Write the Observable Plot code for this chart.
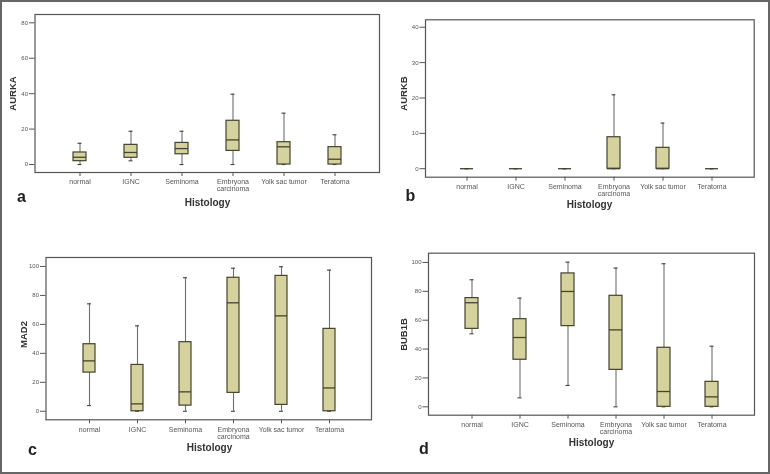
<!DOCTYPE html>
<html><head><meta charset="utf-8">
<script src="https://cdn.jsdelivr.net/npm/d3@7"></script>
<script src="https://cdn.jsdelivr.net/npm/@observablehq/plot@0.6"></script>
<style>
body{margin:0;background:#fff;font-family:"Liberation Sans",Arial,sans-serif}
#wrap{position:relative;width:770px;height:474px;overflow:hidden;background:#fff}
#border{position:absolute;left:0;top:0;width:770px;height:474px;box-sizing:border-box;border:2px solid #666;pointer-events:none}
.panel{position:absolute;will-change:transform}
</style></head>
<body><div id="wrap"><div id="border"></div></div>
<script>
const categories = ["normal", "IGNC", "Seminoma", "Embryona\ncarcinoma", "Yolk sac tumor", "Teratoma"];

// a: AURKA
const aurkaLow  = [0, 2.1, 0, 0, 0, 0];
const aurkaQ1   = [1.9, 3.8, 5.8, 7.7, 0, 0];
const aurkaMed  = [4.1, 6.8, 9.0, 13.9, 10.0, 3.0];
const aurkaQ3   = [6.8, 11.1, 12.2, 24.7, 12.6, 9.8];
const aurkaHigh = [12.0, 18.8, 18.8, 39.7, 29.0, 16.8];
const aurkaTicks = [0, 20, 40, 60, 80];

// b: AURKB
const aurkbLow  = [0, 0, 0, 0, 0, 0];
const aurkbQ1   = [0, 0, 0, 0, 0, 0];
const aurkbMed  = [0, 0, 0, 0, 0, 0];
const aurkbQ3   = [0, 0, 0, 8.9, 5.9, 0];
const aurkbHigh = [0, 0, 0, 20.9, 12.9, 0];
const aurkbTicks = [0, 10, 20, 30, 40];

// c: MAD2
const mad2Low  = [3.9, 0, 0, 0, 0, 0];
const mad2Q1   = [26.7, 0, 3.9, 12.7, 4.4, 0];
const mad2Med  = [34.8, 5.1, 13.4, 74.9, 65.9, 16.1];
const mad2Q3   = [46.3, 32.0, 47.7, 92.2, 93.5, 56.9];
const mad2High = [74.2, 59.0, 92.2, 98.8, 99.8, 97.5];
const mad2Ticks = [0, 20, 40, 60, 80, 100];

// d: BUB1B
const bub1bLow  = [50.6, 6.2, 14.8, 0, 0, 0];
const bub1bQ1   = [54.0, 32.6, 55.9, 25.6, 0, 0];
const bub1bMed  = [72.1, 48.0, 79.9, 53.3, 10.6, 6.9];
const bub1bQ3   = [75.3, 60.7, 92.4, 76.9, 40.9, 17.3];
const bub1bHigh = [88.0, 75.3, 100.2, 96.1, 99.1, 42.0];
const bub1bTicks = [0, 20, 40, 60, 80, 100];

const xTitle = "Histology";

function rows(low, q1, med, q3, high) {
  return categories.map((c, i) => ({cat: c, low: low[i], q1: q1[i], med: med[i], q3: q3[i], high: high[i]}));
}

const panels = [
  {letter: "a", ylab: "AURKA", data: rows(aurkaLow, aurkaQ1, aurkaMed, aurkaQ3, aurkaHigh), ticks: aurkaTicks,
   left: 0, top: 0, ml: 34.5, mr: 6, mt: 14, mb: 65, c: [77, 336], bw: 13, dom: [-4.5, 84.7],
   ylabPos: [12.7, 93], letterPos: [21, 196], histPos: [207, 202]},
  {letter: "b", ylab: "AURKB", data: rows(aurkbLow, aurkbQ1, aurkbMed, aurkbQ3, aurkbHigh), ticks: aurkbTicks,
   left: 385, top: 0, ml: 40, mr: 16.3, mt: 19.3, mb: 60.3, c: [80, 328.3], bw: 13.3, dom: [-2.4, 42.1],
   ylabPos: [18.3, 93], letterPos: [25, 195], histPos: [204, 204.7]},
  {letter: "c", ylab: "MAD2", data: rows(mad2Low, mad2Q1, mad2Med, mad2Q3, mad2High), ticks: mad2Ticks,
   left: 0, top: 237, ml: 45.5, mr: 14, mt: 20, mb: 54.7, c: [87.3, 331.3], bw: 12, dom: [-5.9, 106.2],
   ylabPos: [23, 97], letterPos: [32, 212], histPos: [209, 210.7]},
  {letter: "d", ylab: "BUB1B", data: rows(bub1bLow, bub1bQ1, bub1bMed, bub1bQ3, bub1bHigh), ticks: bub1bTicks,
   left: 385, top: 237, ml: 43, mr: 16, mt: 15.7, mb: 59.3, c: [84.3, 328.7], bw: 13, dom: [-5.8, 106.4],
   ylabPos: [18, 97], letterPos: [38.3, 211.3], histPos: [206, 205.3]}
];

const fillC = "#d6d29d";
const boxC = "#44432f";
const whiskC = "#6e6e6e";
const axisC = "#555";
const wrap = document.getElementById("wrap");

for (const p of panels) {
  const step = (p.c[1] - p.c[0]) / (categories.length - 1);
  const capInset = (p.bw - 4) / 2;
  const at = (pos, opts) => ({frameAnchor: "top-left", dx: pos[0] - p.ml, dy: pos[1] - p.mt, ...opts});
  const chart = Plot.plot({
    width: 385, height: 237,
    marginLeft: p.ml, marginRight: p.mr, marginTop: p.mt, marginBottom: p.mb,
    style: {fontFamily: "'Liberation Sans', Arial, sans-serif", fontSize: "7px", color: axisC, background: "transparent"},
    x: {type: "band", domain: categories, range: [p.c[0] - p.bw / 2, p.c[1] + p.bw / 2],
        paddingInner: 1 - p.bw / step, paddingOuter: 0, align: 0.5},
    y: {domain: p.dom, nice: false},
    marks: [
      Plot.frame({stroke: axisC, strokeWidth: 1.2}),
      Plot.axisY({ticks: p.ticks, tickSize: 5.5, tickPadding: 1.5, label: null, fontSize: 6}),
      Plot.axisX({tickSize: 4, tickPadding: 3, label: null, lineHeight: 1, fontSize: 7}),
      Plot.ruleX(p.data, {x: "cat", y1: "low", y2: "high", stroke: whiskC, strokeWidth: 1.1}),
      Plot.tickY(p.data, {x: "cat", y: "high", stroke: boxC, strokeWidth: 1.1, insetLeft: capInset, insetRight: capInset}),
      Plot.tickY(p.data, {x: "cat", y: "low", stroke: boxC, strokeWidth: 1.1, insetLeft: capInset, insetRight: capInset}),
      Plot.barY(p.data, {x: "cat", y1: "q1", y2: "q3", fill: fillC, stroke: boxC, strokeWidth: 1.2}),
      Plot.tickY(p.data, {x: "cat", y: "med", stroke: boxC, strokeWidth: 1.3}),
      Plot.text([xTitle], at(p.histPos, {text: d => d, fontSize: 10, fontWeight: "bold", fill: "#333", textAnchor: "middle", lineAnchor: "middle"})),
      Plot.text([p.ylab], at(p.ylabPos, {text: d => d, fontSize: 9.5, fontWeight: "bold", fill: "#333", rotate: -90, textAnchor: "middle", lineAnchor: "middle"})),
      Plot.text([p.letter], at(p.letterPos, {text: d => d, fontSize: 16, fontWeight: "bold", fill: "#222", textAnchor: "middle", lineAnchor: "middle"}))
    ]
  });
  chart.classList.add("panel");
  chart.style.left = p.left + "px";
  chart.style.top = p.top + "px";
  wrap.insertBefore(chart, document.getElementById("border"));
}
</script>
</body></html>
